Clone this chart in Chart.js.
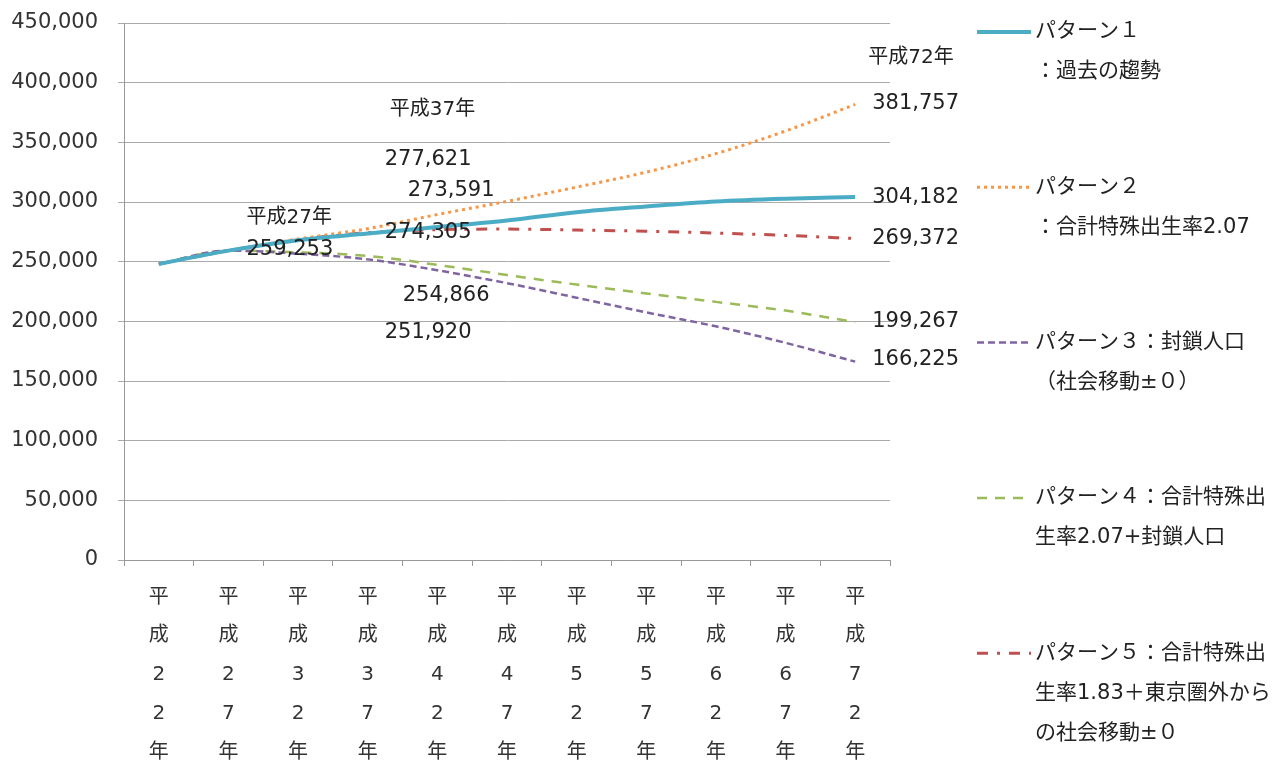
<!DOCTYPE html>
<html lang="ja">

<head>
    <meta charset="UTF-8">
    <title>将来人口推計</title>
    <script src="https://cdn.jsdelivr.net/npm/chart.js"></script>
    <style>
        body {
            margin: 0;
            background: #fff;
        }
    </style>
</head>

<body>
    <canvas id="popChart" width="1286" height="760"></canvas>
    <script>
        // 年次
        const years = ['平成22年', '平成27年', '平成32年', '平成37年', '平成42年', '平成47年',
            '平成52年', '平成57年', '平成62年', '平成67年', '平成72年'];

        // パターン別推計人口
        const pattern1 = [248100, 259253, 268000, 273591, 279000, 284500, 291500, 296300, 300500, 302800, 304182];
        const pattern2 = [248100, 259253, 269000, 277621, 289500, 300500, 312500, 325000, 340500, 359500, 381757];
        const pattern3 = [248100, 259253, 256700, 251920, 242800, 232000, 219800, 207500, 195800, 182000, 166225];
        const pattern4 = [248100, 259253, 257800, 254866, 247300, 238800, 230800, 223400, 216300, 209000, 199267];
        const pattern5 = [248100, 259253, 268300, 274305, 276800, 277300, 276500, 275500, 274000, 272000, 269372];

        // 凡例の文言（行ごと）
        const legendText = [
            ['パターン１', '：過去の趨勢'],
            ['パターン２', '：合計特殊出生率2.07'],
            ['パターン３：封鎖人口', '（社会移動±０）'],
            ['パターン４：合計特殊出', '生率2.07+封鎖人口'],
            ['パターン５：合計特殊出', '生率1.83＋東京圏外から', 'の社会移動±０']
        ];

        const FONT = '"DejaVu Sans", "Noto Sans CJK JP", sans-serif';
        const fmt = v => v.toLocaleString('en-US');

        // 数値ラベル: [系列, 年次インデックス, x方向のずらし, y座標]
        const valueNotes = [
            [0, 1, 18, 250],
            [1, 3, 17, 160],
            [0, 3, 40, 191],
            [4, 3, 17, 233],
            [3, 3, 35, 296],
            [2, 3, 17, 333],
            [1, 10, 17, 104],
            [0, 10, 17, 198],
            [4, 10, 17, 239],
            [3, 10, 17, 322],
            [2, 10, 17, 360]
        ];
        // 年次見出し: [年次インデックス, x方向のずらし, y座標]
        const yearNotes = [
            [1, 18, 218],
            [3, 22, 110],
            [10, 13, 58]
        ];

        // グラフ内の注記
        const notesPlugin = {
            id: 'notes',
            afterDatasetsDraw(chart) {
                const ctx = chart.ctx;
                const xs = chart.scales.x;
                ctx.save();
                ctx.fillStyle = '#222';
                ctx.textAlign = 'left';
                ctx.textBaseline = 'middle';
                ctx.font = '20px ' + FONT;
                yearNotes.forEach(n => {
                    ctx.fillText(years[n[0]], xs.getPixelForValue(n[0]) + n[1], n[2]);
                });
                ctx.font = '21px ' + FONT;
                valueNotes.forEach(n => {
                    const v = chart.data.datasets[n[0]].data[n[1]];
                    ctx.fillText(fmt(v), xs.getPixelForValue(n[1]) + n[2], n[3]);
                });
                ctx.restore();
            }
        };

        // 右側の凡例
        const legendPlugin = {
            id: 'sideLegend',
            afterDraw(chart) {
                const ctx = chart.ctx;
                ctx.save();
                chart.data.datasets.forEach((ds, i) => {
                    const top = 32 + i * 155.3;
                    ctx.strokeStyle = ds.borderColor;
                    ctx.lineWidth = ds.borderWidth;
                    ctx.setLineDash(ds.borderDash || []);
                    ctx.beginPath();
                    ctx.moveTo(977, top);
                    ctx.lineTo(1031, top);
                    ctx.stroke();
                    ctx.setLineDash([]);
                    ctx.fillStyle = '#222';
                    ctx.font = '21px ' + FONT;
                    ctx.textAlign = 'left';
                    ctx.textBaseline = 'middle';
                    legendText[i].forEach((t, k) => {
                        ctx.fillText(t, 1035, top + k * 40);
                    });
                });
                ctx.restore();
            }
        };

        const ctx = document.getElementById('popChart');
        const popChart = new Chart(ctx, {
            type: 'line',
            data: {
                labels: years,
                datasets: [{
                    label: 'パターン１',
                    data: pattern1,
                    borderColor: '#4bacc6',
                    borderWidth: 4
                }, {
                    label: 'パターン２',
                    data: pattern2,
                    borderColor: '#f79646',
                    borderWidth: 3,
                    borderDash: [3, 4]
                }, {
                    label: 'パターン３',
                    data: pattern3,
                    borderColor: '#8064a2',
                    borderWidth: 2.5,
                    borderDash: [7, 4]
                }, {
                    label: 'パターン４',
                    data: pattern4,
                    borderColor: '#9bbb59',
                    borderWidth: 2.5,
                    borderDash: [10, 8]
                }, {
                    label: 'パターン５',
                    data: pattern5,
                    borderColor: '#c0504d',
                    borderWidth: 3,
                    borderDash: [11, 9, 3, 9]
                }]
            },
            options: {
                responsive: false,
                animation: false,
                elements: {
                    point: { radius: 0 },
                    line: { cubicInterpolationMode: 'monotone', fill: false }
                },
                layout: {
                    padding: { left: 0, right: 396, top: 23, bottom: 0 }
                },
                plugins: {
                    legend: { display: false },
                    tooltip: { enabled: false }
                },
                scales: {
                    x: {
                        offset: true,
                        grid: {
                            offset: true,
                            drawOnChartArea: false,
                            color: '#999',
                            tickLength: 6
                        },
                        border: { color: '#999' },
                        ticks: {
                            padding: 12,
                            maxRotation: 0,
                            autoSkip: false,
                            color: '#333',
                            font: { family: FONT, size: 20, lineHeight: 1.94 },
                            // 縦書き風に一文字ずつ改行
                            callback: function (v) {
                                return this.getLabelForValue(v).split('');
                            }
                        },
                        afterFit: s => { s.height = 200; }
                    },
                    y: {
                        min: 0,
                        max: 450000,
                        grid: { color: '#aaa', tickLength: 6 },
                        border: { color: '#999' },
                        ticks: {
                            stepSize: 50000,
                            padding: 20,
                            color: '#333',
                            font: { family: FONT, size: 21 },
                            callback: v => fmt(v)
                        },
                        afterFit: s => {
                            s.width = 124;
                            s.paddingTop = 0;
                            s.paddingBottom = 0;
                        }
                    }
                }
            },
            plugins: [notesPlugin, legendPlugin]
        });
    </script>
</body>

</html>
